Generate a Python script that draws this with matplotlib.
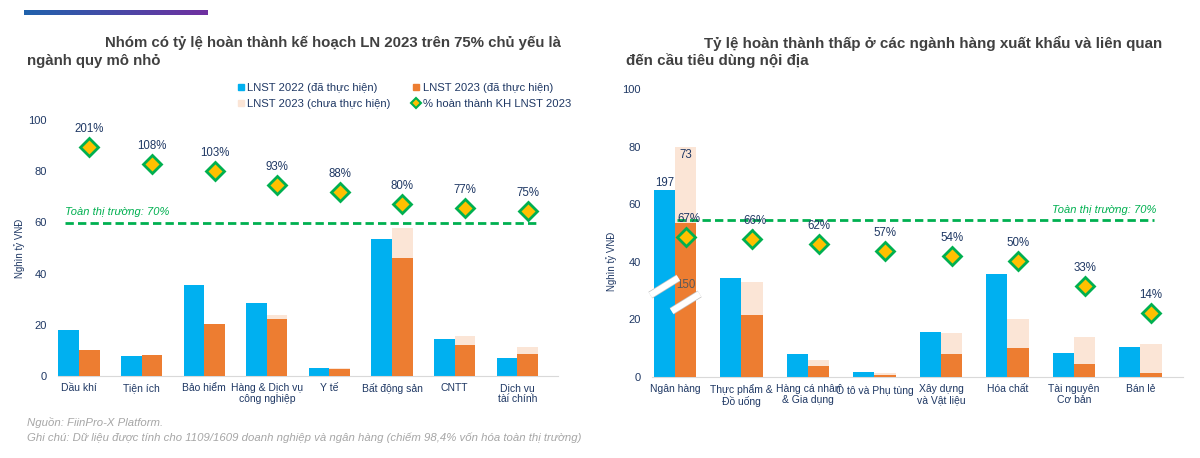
import numpy as np
import matplotlib
matplotlib.use("Agg")
import matplotlib.pyplot as plt
from matplotlib.lines import Line2D
from matplotlib.colors import LinearSegmentedColormap
import matplotlib.patheffects as pe

plt.rcParams['font.family'] = ['Liberation Sans', 'DejaVu Sans']

# ---- data (nghìn tỷ VNĐ) ----
left_cats = ['Dầu khí', 'Tiện ích', 'Bảo hiểm', 'Hàng & Dịch vụ\ncông nghiệp', 'Y tế',
             'Bất động sản', 'CNTT', 'Dịch vụ\ntài chính']
left_2022 = [18.0, 7.8, 35.6, 28.6, 3.3, 53.7, 14.6, 7.1]
left_2023_done = [10.2, 8.3, 20.4, 22.1, 2.6, 46.0, 12.2, 8.6]
left_2023_plan = [5.1, 7.7, 19.8, 24.0, 3.0, 57.9, 15.7, 11.5]
left_pct = [201, 108, 103, 93, 88, 80, 77, 75]

right_cats = ['Ngân hàng', 'Thực phẩm &\nĐồ uống', 'Hàng cá nhân\n& Gia dụng', 'Ô tô và Phụ tùng',
              'Xây dựng\nvà Vật liệu', 'Hóa chất', 'Tài nguyên\nCơ bản', 'Bán lẻ']
# first group (Ngân hàng) is drawn on a broken scale
right_2022 = [64.8, 34.4, 7.9, 1.7, 15.5, 35.6, 8.3, 10.4]
right_2023_done = [53.3, 21.7, 3.7, 0.8, 8.1, 10.1, 4.4, 1.5]
right_2023_plan = [80.0, 32.9, 6.0, 1.5, 15.3, 20.3, 13.8, 11.6]
right_pct = [67, 66, 62, 57, 54, 50, 33, 14]
bank_actual = {'2022': 197, 'done': 150, 'left': 73}

market_pct = 70
market_level = [59.6, 54.5]   # where the "Toàn thị trường" line sits on each chart

blue = '#00B0F0'
orange = '#ED7D31'
peach = '#FBE5D6'
green = '#00B050'
gold = '#FFC000'
navy = '#1F3864'
title_c = '#404040'

fig = plt.figure(figsize=(12, 4.58), dpi=100)

# gradient strip at the top
strip = fig.add_axes([24 / 1200, 1 - 15 / 458, 184 / 1200, 5 / 458])
cmap = LinearSegmentedColormap.from_list('strip', ['#2062AC', '#7030A0'])
strip.imshow(np.linspace(0, 1, 200)[None, :], aspect='auto', cmap=cmap)
strip.axis('off')

# titles
fig.text(105 / 1200, 1 - 43 / 458, 'Nhóm có tỷ lệ hoàn thành kế hoạch LN 2023 trên 75% chủ yếu là',
         fontsize=10.8, weight='bold', color=title_c, va='center')
fig.text(27 / 1200, 1 - 61 / 458, 'ngành quy mô nhỏ',
         fontsize=10.8, weight='bold', color=title_c, va='center')
fig.text(704 / 1200, 1 - 43 / 458, 'Tỷ lệ hoàn thành thấp ở các ngành hàng xuất khẩu và liên quan',
         fontsize=10.9, weight='bold', color=title_c, va='center')
fig.text(626 / 1200, 1 - 61 / 458, 'đến cầu tiêu dùng nội địa',
         fontsize=10.9, weight='bold', color=title_c, va='center')

# footnotes
fig.text(27 / 1200, 1 - 423 / 458, 'Nguồn: FiinPro-X Platform.', fontsize=8.2,
         style='italic', color='#A6A6A6', va='center')
fig.text(27 / 1200, 1 - 438 / 458,
         'Ghi chú: Dữ liệu được tính cho 1109/1609 doanh nghiệp và ngân hàng (chiếm 98,4% vốn hóa toàn thị trường)',
         fontsize=8.2, style='italic', color='#A6A6A6', va='center')


def style_axes(ax, cats, xlim, ylabel_y):
    ax.set_xlim(*xlim)
    ax.set_ylim(0, 100)
    ax.set_yticks(range(0, 101, 20))
    ax.set_xticks(range(len(cats)))
    ax.set_xticklabels(cats, fontsize=7.5, color=navy, linespacing=1.1)
    ax.tick_params(axis='both', length=0, labelsize=8, colors=navy)
    ax.tick_params(axis='x', pad=5, labelsize=7.5)
    ax.tick_params(axis='y', pad=8)
    for s in ['top', 'right', 'left']:
        ax.spines[s].set_visible(False)
    ax.spines['bottom'].set_color('#D9D9D9')
    ax.set_ylabel('Nghìn tỷ VNĐ', fontsize=7, color=navy)
    ax.yaxis.set_label_coords(-0.066, ylabel_y)
    ax.patch.set_alpha(0)


def draw_bars(ax, w, v22, done, plan):
    x = np.arange(len(v22))
    ax.bar(x - w, v22, w, align='edge', color=blue, zorder=2)
    ax.bar(x, plan, w, align='edge', color=peach, zorder=2)
    ax.bar(x, done, w, align='edge', color=orange, zorder=3)
    return x


def draw_pct(ax, x, w, pct, lo, hi, cap, leaders=()):
    ax2 = ax.twinx()
    ax2.set_ylim(lo, hi)
    ax2.axis('off')
    xs = x + w / 2
    vals = np.minimum(pct, cap)
    ax2.plot(xs, vals, linestyle='', marker='D', markersize=9, markerfacecolor=gold,
             markeredgecolor=green, markeredgewidth=2, zorder=5)
    for i, (xx, v, p) in enumerate(zip(xs, vals, pct)):
        props = dict(arrowstyle='-', color='#A6A6A6', lw=0.6, shrinkA=0, shrinkB=4) if i in leaders else None
        ax2.annotate(f'{p}%', (xx, v), xytext=(0 if i not in leaders else 2, 13),
                     textcoords='offset points', ha='center', va='center', fontsize=8.3,
                     color=navy, arrowprops=props)
    return ax2


# ---------------- left chart ----------------
axL = fig.add_axes([58 / 1200, 1 - 376 / 458, 500 / 1200, 256 / 458])
wL = 0.33
xL = draw_bars(axL, wL, left_2022, left_2023_done, left_2023_plan)
style_axes(axL, left_cats, (-0.335, 7.65), 0.5)
axL.hlines(market_level[0], -0.22, 7.36, colors=green, linewidth=2, linestyles=(0, (3, 1.5)), zorder=4)
axL.text(-0.22, market_level[0] + 4.3, f'Toàn thị trường: {market_pct}%', color=green,
         style='italic', fontsize=8, va='center', ha='left')
draw_pct(axL, xL, wL, left_pct, -42.9, 139.6, 120)

handles = [
    Line2D([], [], linestyle='', marker='s', markersize=4.5, color=blue),
    Line2D([], [], linestyle='', marker='s', markersize=4.5, color=peach),
    Line2D([], [], linestyle='', marker='s', markersize=4.5, color=orange),
    Line2D([], [], linestyle='', marker='D', markersize=5, markerfacecolor=gold,
           markeredgecolor=green, markeredgewidth=1.5),
]
labels = ['LNST 2022 (đã thực hiện)', 'LNST 2023 (chưa thực hiện)',
          'LNST 2023 (đã thực hiện)', '% hoàn thành KH LNST 2023']
fig.legend(handles, labels, loc='upper left', bbox_to_anchor=(232 / 1200, 1 - 77 / 458),
           ncol=2, frameon=False, fontsize=8.1, handlelength=0.6, handletextpad=0.25,
           columnspacing=2.0, labelspacing=0.6, borderpad=0, labelcolor=navy)

# ---------------- right chart ----------------
axR = fig.add_axes([652 / 1200, 1 - 377 / 458, 531 / 1200, 288 / 458])
wR = 0.32
xR = draw_bars(axR, wR, right_2022, right_2023_done, right_2023_plan)
style_axes(axR, right_cats, (-0.346, 7.64), 0.4)
axR.hlines(market_level[1], 0.03, 7.2, colors=green, linewidth=2, linestyles=(0, (3, 1.5)), zorder=4)
axR.text(7.24, market_level[1] + 3.5, f'Toàn thị trường: {market_pct}%', color=green,
         style='italic', fontsize=8, va='center', ha='right')
draw_pct(axR, xR, wR, right_pct, -30.9, 170.7, 120, leaders=(0, 1))

# bank group: real values as labels and break marks
axR.annotate(str(bank_actual['2022']), (-wR / 2, right_2022[0]), xytext=(0, 1),
             textcoords='offset points', ha='center', va='bottom', fontsize=8.3, color=navy)
axR.annotate(str(bank_actual['left']), (wR / 2, right_2023_plan[0]), xytext=(0, -2),
             textcoords='offset points', ha='center', va='top', fontsize=8.3, color=navy)
axR.text(wR / 2, right_2023_done[0] * 0.6, str(bank_actual['done']), ha='center', va='center',
         fontsize=8.3, color='#595959', zorder=6)
for x0, h in [(-wR, right_2022[0]), (0, right_2023_done[0])]:
    yc = h * 0.485
    axR.plot([x0 - 0.05, x0 + wR + 0.05], [yc - 3, yc + 3], color='white', lw=4.5,
             solid_capstyle='butt', zorder=6, clip_on=False,
             path_effects=[pe.Stroke(linewidth=5.5, foreground='#BFBFBF'), pe.Normal()])

fig.savefig('out.png', dpi=100)
